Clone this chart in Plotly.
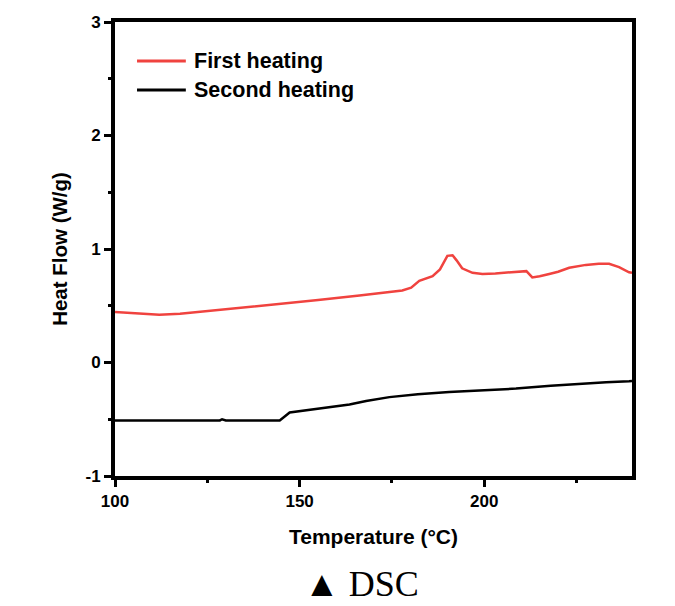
import plotly.graph_objects as go

# First heating (red)
t1 = [100, 106, 112, 117.6, 124, 130.2, 140, 148, 155, 166.2, 172, 177.8, 180.2, 182.4, 186, 188, 190, 191.4, 192.5, 194, 196.8, 199.5, 203, 207.6, 211.4, 213, 215, 217.6, 220, 223, 227.5, 231, 233.8, 236.5, 239.2, 240]
h1 = [0.445, 0.43, 0.42, 0.43, 0.45, 0.475, 0.50, 0.525, 0.55, 0.59, 0.615, 0.635, 0.66, 0.72, 0.76, 0.82, 0.94, 0.945, 0.90, 0.83, 0.79, 0.78, 0.785, 0.795, 0.805, 0.75, 0.76, 0.78, 0.80, 0.835, 0.86, 0.87, 0.87, 0.84, 0.795, 0.79]

# Second heating (black)
t2 = [100, 110, 120, 128.4, 129, 130, 131, 140, 144.6, 147.3, 152, 158, 163.5, 168, 174.3, 182, 190.5, 200, 208.6, 218, 226.5, 233, 239.2, 240]
h2 = [-0.51, -0.51, -0.51, -0.51, -0.50, -0.51, -0.51, -0.51, -0.51, -0.44, -0.42, -0.395, -0.37, -0.34, -0.305, -0.28, -0.26, -0.245, -0.23, -0.205, -0.186, -0.175, -0.165, -0.163]

series_names = ["First heating", "Second heating"]
series_colors = ["#f0433f", "black"]

x_ticks = [100, 150, 200]
y_ticks = [-1, 0, 1, 2, 3]

font_bold = "Liberation Sans"

fig = go.Figure()
fig.add_trace(go.Scatter(x=t1, y=h1, mode="lines", name=series_names[0],
                         line=dict(color=series_colors[0], width=2.5), showlegend=False))
fig.add_trace(go.Scatter(x=t2, y=h2, mode="lines", name=series_names[1],
                         line=dict(color=series_colors[1], width=2.5), showlegend=False))

axis_common = dict(showline=True, linecolor="black", linewidth=4, mirror=True,
                   ticks="outside", ticklen=7, tickwidth=3, tickcolor="black",
                   showgrid=False, zeroline=False,
                   tickfont=dict(family=font_bold, size=17, color="black"))

fig.update_xaxes(range=[100, 240], tickvals=x_ticks, ticktext=[f"<b>{v}</b>" for v in x_ticks],
                 minor=dict(tickvals=[125, 175, 225], ticklen=3, tickwidth=2.5, tickcolor="black", ticks="outside"),
                 title=dict(text="<b>Temperature (°C)</b>", font=dict(family=font_bold, size=21, color="black"), standoff=20),
                 **axis_common)
fig.update_yaxes(range=[-1, 3], tickvals=y_ticks, ticktext=[f"<b>{v}</b>" for v in y_ticks],
                 minor=dict(tickvals=[-0.5, 0.5, 1.5, 2.5], ticklen=3, tickwidth=2.5, tickcolor="black", ticks="outside"),
                 title=dict(text="<b>Heat Flow (W/g)</b>", font=dict(family=font_bold, size=20.5, color="black"), standoff=13),
                 **axis_common)

# manual legend (longer sample lines than Plotly's built-in legend)
legend_y = [0.914, 0.850]
shapes = []
annotations = []
for name, col, ly in zip(series_names, series_colors, legend_y):
    shapes.append(dict(type="line", xref="paper", yref="paper", x0=0.0426, x1=0.137, y0=ly, y1=ly,
                       line=dict(color=col, width=3)))
    annotations.append(dict(text=f"<b>{name}</b>", xref="paper", yref="paper", x=0.148, y=ly,
                            xanchor="left", yanchor="middle", showarrow=False,
                            font=dict(family=font_bold, size=21.5, color="black")))

annotations.append(dict(text="▲ DSC", xref="paper", yref="paper", x=0.476, y=0, yshift=-108,
                        xanchor="center", yanchor="middle", showarrow=False,
                        font=dict(family="Liberation Serif", size=36, color="black")))

fig.update_layout(
    width=675, height=606,
    margin=dict(l=115, r=43, t=22, b=130),
    paper_bgcolor="white", plot_bgcolor="white",
    shapes=shapes,
    annotations=annotations,
)

fig.write_html("out.html")
